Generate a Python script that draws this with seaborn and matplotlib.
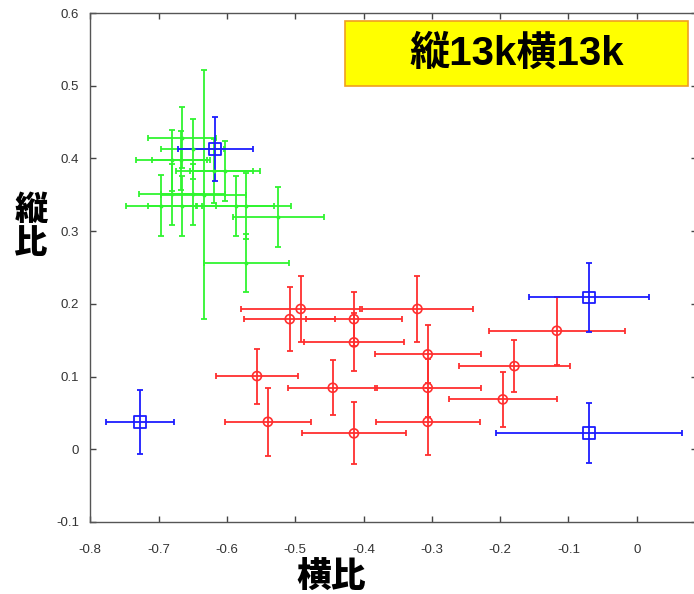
import matplotlib
matplotlib.use("Agg")
import matplotlib.pyplot as plt
import numpy as np
import pandas as pd
import seaborn as sns
from matplotlib.patches import Rectangle

# ---- data: horizontal ratio (x), vertical ratio (y) and their spreads ----
green_x = [-0.5715, -0.5715, -0.5247, -0.6340, -0.6028, -0.6184, -0.6653, -0.6670,
           -0.6653, -0.6809, -0.6809, -0.6501, -0.6501, -0.6965, -0.5872]
green_y = [0.2561, 0.3350, 0.3194, 0.3501, 0.3822, 0.3827, 0.4285, 0.3973,
           0.3345, 0.3973, 0.3506, 0.4129, 0.3506, 0.3350, 0.3345]
green_xerr = [0.0617, 0.0647, 0.0671, 0.0622, 0.0508, 0.0566, 0.0495, 0.0422,
              0.0500, 0.0522, 0.0478, 0.0464, 0.0468, 0.0512, 0.0561]
green_yerr = [0.0399, 0.0456, 0.0408, 0.1710, 0.0413, 0.0436, 0.0417, 0.0406,
              0.0413, 0.0424, 0.0415, 0.0415, 0.0415, 0.0422, 0.0415]

red_x = [-0.492, -0.321, -0.508, -0.414, -0.414, -0.306, -0.306, -0.306,
         -0.445, -0.556, -0.540, -0.414, -0.117, -0.179, -0.196]
red_y = [0.193, 0.193, 0.179, 0.179, 0.147, 0.1305, 0.0846, 0.0378,
         0.0846, 0.1007, 0.0378, 0.0219, 0.163, 0.1144, 0.0686]
red_xerr = [0.0874, 0.0814, 0.0670, 0.0708, 0.0735, 0.0776, 0.0776, 0.0760,
            0.0650, 0.0596, 0.0632, 0.0759, 0.0996, 0.0807, 0.0790]
red_yerr = [0.0454, 0.0450, 0.0440, 0.0370, 0.0400, 0.0400, 0.0400, 0.0460,
            0.0376, 0.0378, 0.0468, 0.0426, 0.0465, 0.0360, 0.0380]

blue_x = [-0.617, -0.070, -0.070, -0.727]
blue_y = [0.413, 0.209, 0.022, 0.0374]
blue_xerr = [0.0547, 0.0876, 0.1364, 0.0495]
blue_yerr = [0.0444, 0.0477, 0.0410, 0.0438]

x_ticks = [-0.8, -0.7, -0.6, -0.5, -0.4, -0.3, -0.2, -0.1, 0.0]
x_tick_labels = ["-0.8", "-0.7", "-0.6", "-0.5", "-0.4", "-0.3", "-0.2", "-0.1", "0"]
y_ticks = [-0.1, 0.0, 0.1, 0.2, 0.3, 0.4, 0.5, 0.6]
y_tick_labels = ["-0.1", "0", "0.1", "0.2", "0.3", "0.4", "0.5", "0.6"]

title_text = "縦13k横13k"
x_label = "横比"
y_label = "縦\n比"

# ---- styling ----
sns.set_theme(style="ticks")
plt.rcParams["font.family"] = ["Liberation Sans", "Noto Sans CJK JP", "DejaVu Sans"]

W, H = 694, 594
fig = plt.figure(figsize=(W / 100, H / 100), dpi=100)
fig.patch.set_facecolor("white")
ax = fig.add_axes([90.3 / W, (H - 522) / H, (697 - 90.3) / W, (522 - 13) / H])
ax.set_facecolor("white")

GREEN = "#30f530"
RED = "#ff2f2f"
BLUE = "#1c1cff"

groups = [
    (green_x, green_y, green_xerr, green_yerr, GREEN, "."),
    (red_x, red_y, red_xerr, red_yerr, RED, "o"),
    (blue_x, blue_y, blue_xerr, blue_yerr, BLUE, "s"),
]

for gx, gy, gxe, gye, col, mk in groups:
    ax.errorbar(gx, gy, xerr=gxe, yerr=gye, fmt="none", ecolor=col,
                elinewidth=1.3, capsize=2.3, capthick=1.3, zorder=2)
    df = pd.DataFrame({"x": gx, "y": gy})
    if mk == ".":
        sns.scatterplot(data=df, x="x", y="y", ax=ax, marker="o", s=8,
                        color=col, edgecolor=col, linewidth=0, zorder=3)
    elif mk == "o":
        sns.scatterplot(data=df, x="x", y="y", ax=ax, marker="o", s=42,
                        facecolor="none", edgecolor=col, linewidth=1.2, zorder=3)
    else:
        sns.scatterplot(data=df, x="x", y="y", ax=ax, marker="s", s=70,
                        facecolor="none", edgecolor=col, linewidth=1.3, zorder=4)

ax.set_xlim(-0.8, -0.8 + (697 - 90.3) / 683)
ax.set_ylim(-0.1, 0.6)
ax.set_xticks(x_ticks)
ax.set_xticklabels(x_tick_labels)
ax.set_yticks(y_ticks)
ax.set_yticklabels(y_tick_labels)
ax.set_xlabel("")
ax.set_ylabel("")

ax.tick_params(direction="in", top=True, right=True, length=4, width=1,
               color="#444444", labelcolor="#333333", labelsize=9.5)
ax.tick_params(axis="x", pad=16)
ax.tick_params(axis="y", pad=8)
for sp in ax.spines.values():
    sp.set_visible(True)
    sp.set_color("#555555")
    sp.set_linewidth(1.0)

# title banner
fig.patches.append(Rectangle((345 / W, 1 - 86 / H), (688 - 345) / W, (86 - 21) / H,
                             transform=fig.transFigure, facecolor="#ffff00",
                             edgecolor="#f0a020", linewidth=1.2, zorder=5))
fig.text(517 / W, 1 - 54 / H, title_text, ha="center", va="center",
         fontsize=29, fontweight="bold", color="black", zorder=6,
         family=["Liberation Sans", "Noto Sans CJK JP"])

# axis labels
fig.text(331 / W, 1 - 577 / H, x_label, ha="center", va="center",
         fontsize=25, fontweight="heavy", color="black",
         family=["Noto Sans CJK JP"])
fig.text(31 / W, 1 - 226 / H, y_label, ha="center", va="center",
         fontsize=24, fontweight="heavy", color="black", linespacing=0.95,
         family=["Noto Sans CJK JP"])

fig.savefig("out.png", dpi=100, facecolor="white")
